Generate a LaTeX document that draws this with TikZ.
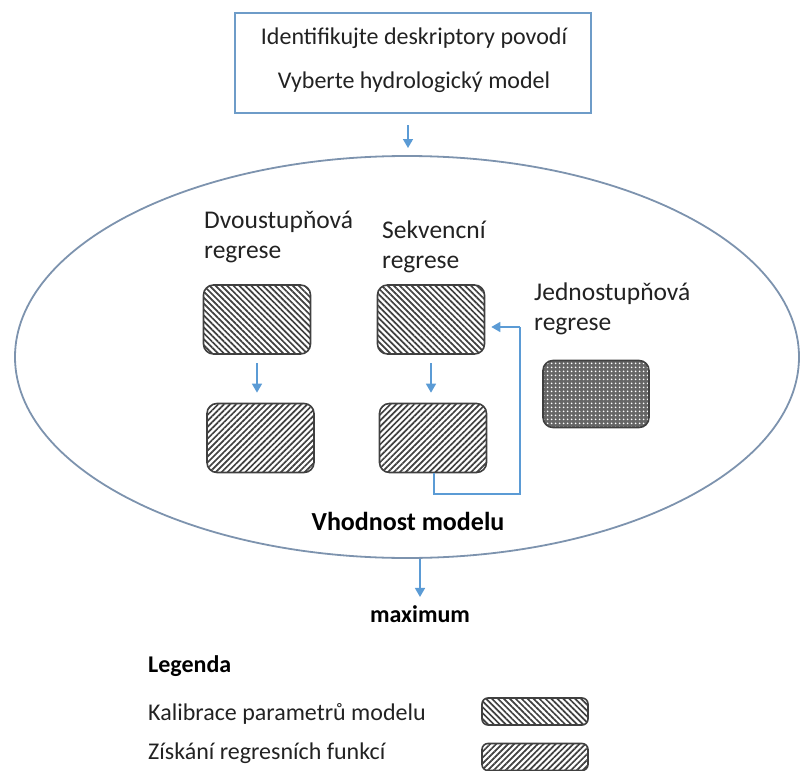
\documentclass[tikz,border=0pt]{standalone}
\usepackage{fontspec}
\setmainfont{Carlito}
\usetikzlibrary{patterns.meta,arrows.meta,shapes.geometric}
\definecolor{arrowblue}{HTML}{5B9BD5}
\definecolor{boxblue}{HTML}{6E9CC8}
\definecolor{ellblue}{HTML}{7D93AE}
\definecolor{txt}{HTML}{222222}
\tikzset{
  lbl/.style={anchor=base west,inner sep=0pt,text=txt,font=\fontsize{24}{28}\selectfont},
  ilbl/.style={anchor=base west,inner sep=0pt,text=txt,font=\fontsize{25.5}{30}\selectfont},
  clbl/.style={anchor=base,inner sep=0pt,text=txt,font=\fontsize{24}{28}\selectfont},
  blbl/.style={anchor=base,inner sep=0pt,text=black,font=\fontsize{26}{30}\selectfont\bfseries},
  hbox/.style={draw=black!75,line width=1.6pt,rounded corners=10pt,minimum width=107pt,minimum height=69pt,inner sep=0pt},
  calib/.style={hbox,pattern={Lines[angle=-45,distance=4.2pt,line width=1.7pt]},pattern color=black!75},
  regr/.style={hbox,pattern={Lines[angle=45,distance=4.2pt,line width=1.7pt]},pattern color=black!75},
  dots/.style={hbox,preaction={fill=black!60},pattern={Dots[distance=4pt,radius=1.1pt]},pattern color=white},
  barrow/.style={draw=arrowblue,line width=1.5pt,-{Triangle[length=9pt,width=10pt]}},
}
\begin{document}
\begin{tikzpicture}[x=1pt,y=-1pt]
\useasboundingbox (0,0) rectangle (807,771);
% top box
\node[draw=boxblue,line width=1.3pt,minimum width=356pt,minimum height=100pt,inner sep=0pt] (top) at (413,63) {};
\node[clbl] (t1) at (414,44) {Identifikujte deskriptory povodí};
\node[clbl] (t2) at (414,88) {Vyberte hydrologický model};
% ellipse
\node[draw=ellblue,line width=1.8pt,ellipse,minimum width=784pt,minimum height=402pt,inner sep=0pt] (ell) at (407,357) {};
\coordinate (topin) at (408,148);
\coordinate (topout) at (408,125);
\draw[barrow] (topout) -- (topin);
% labels
\node[ilbl] (d1) at (204,228) {Dvoustupňová};
\node[ilbl] (d2) at (204,258) {regrese};
\node[ilbl] (s1) at (382,238) {Sekvencní};
\node[ilbl] (s2) at (382,268) {regrese};
\node[ilbl] (j1) at (534,300) {Jednostupňová};
\node[ilbl] (j2) at (534,330) {regrese};
% boxes
\node[calib] (b1) at (257,319.5) {};
\node[regr] (b2) at (260.5,438) {};
\node[calib] (b3) at (431,319.5) {};
\node[regr] (b4) at (433,438) {};
\node[dots,minimum width=106pt,minimum height=67pt] (b5) at (596,394) {};
\coordinate (a1) at (257,363);
\coordinate (a2) at (431,363);
\draw[barrow] (a1) -- ([yshift=10pt]a1 |- b2.north);
\draw[barrow] (a2) -- ([yshift=10pt]a2 |- b4.north);
\coordinate (fb1) at (434,494);
\coordinate (fb2) at (520,494);
\coordinate (fb3) at (520,327);
\draw[draw=arrowblue,line width=1.3pt] (b4.south -| fb1) -- (fb1) -- (fb2) -- (fb3);
\draw[barrow] (fb3) -- ([xshift=6pt]b3.east |- fb3);
\node[blbl] (vh) at (408,530) {Vhodnost modelu};
\node[blbl,font=\fontsize{24}{28}\selectfont\bfseries] (mx) at (420,622) {maximum};
\draw[barrow] (ell.south -| mx) -- ([yshift=8pt]mx.north);
% legend
\node[lbl,font=\fontsize{24}{28}\selectfont\bfseries,text=black] (leg) at (148,672) {Legenda};
\node[lbl] (k1) at (148,720) {Kalibrace parametrů modelu};
\node[lbl] (k2) at (148,759) {Získání regresních funkcí};
\node[calib,minimum width=106pt,minimum height=27pt,rounded corners=6pt] (lb1) at (535,711.5) {};
\node[regr,minimum width=106pt,minimum height=27pt,rounded corners=6pt] (lb2) at (535,757) {};
\end{tikzpicture}
\end{document}
